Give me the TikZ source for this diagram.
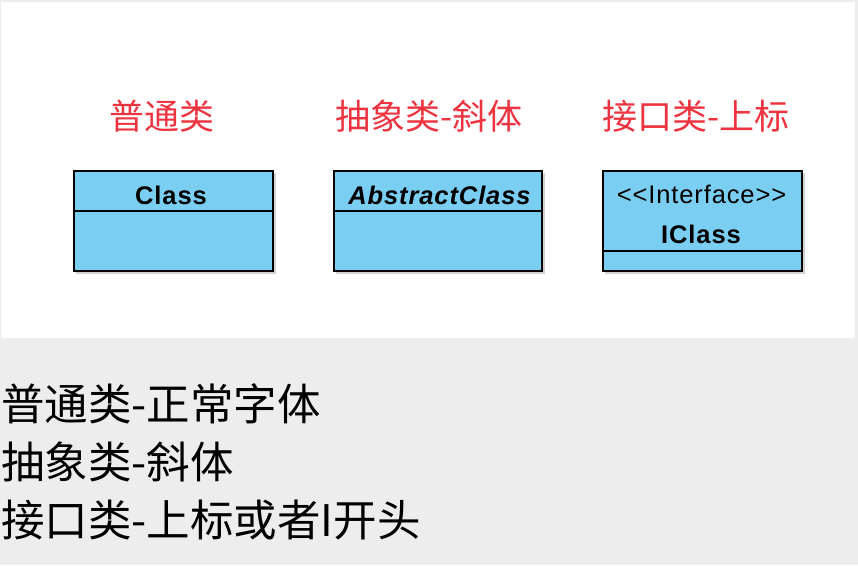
\documentclass[tikz,border=0pt]{standalone}
\usepackage{fontspec}
\setmainfont{Liberation Sans}
\newfontfamily\boxfont[LetterSpace=3.5]{Liberation Sans}
\newfontfamily\cjk{Noto Sans CJK SC}
\definecolor{bggray}{HTML}{EDEDED}
\definecolor{umlblue}{HTML}{7ACEF2}
\definecolor{labred}{HTML}{EE3340}
\begin{document}
\begin{tikzpicture}[x=1pt,y=-1pt,
  umlbox/.style={draw=black, line width=1.8pt, fill=umlblue, inner sep=0pt, minimum width=199pt, minimum height=100pt},
  divider/.style={draw=black, line width=1.6pt},
  redlabel/.style={text=labred, inner sep=0pt, font=\cjk\fontsize{35}{40}\selectfont},
  clsname/.style={inner sep=0pt, anchor=base, font=\boxfont\bfseries\fontsize{25.5}{30}\selectfont},
  stereo/.style={inner sep=0pt, anchor=base, font=\boxfont\fontsize{25.5}{30}\selectfont},
  notetext/.style={inner sep=0pt, anchor=west, text=black, font=\cjk\fontsize{43.5}{50}\selectfont},
  shadowbox/.style={fill=black, opacity=0.18}
]
\useasboundingbox (0,0) rectangle (858,565);
\fill[bggray] (0,0) rectangle (858,565);
\fill[white] (1,1.5) rectangle (855,338);

% shadows
\fill[shadowbox] (76,173) rectangle (275.5,273.5);
\fill[shadowbox] (336,173) rectangle (544.5,273.5);
\fill[shadowbox] (605,173) rectangle (804.5,273.5);

% boxes
\node[umlbox] (b1) at (173.5,221) {};
\node[umlbox, minimum width=208pt] (b2) at (438,221) {};
\node[umlbox] (b3) at (702.5,221) {};

\draw[divider] (b1.west |- 0,211) -- (b1.east |- 0,211);
\draw[divider] (b2.west |- 0,211) -- (b2.east |- 0,211);
\draw[divider] (b3.west |- 0,251) -- (b3.east |- 0,251);

% class names
\node[clsname] (n1) at (171,204) {Class};
\node[clsname, font=\boxfont\bfseries\itshape\fontsize{25.5}{30}\selectfont] (n2) at (439.5,204) {AbstractClass};
\node[stereo] (s3) at (701.5,203.5) {<{}<Interface>{}>};
\node[clsname] (n3) at (701,243) {IClass};

% red labels
\node[redlabel] (l1) at (161.5,116) {普通类};
\node[redlabel] (l2) at (429,116) {抽象类-斜体};
\node[redlabel] (l3) at (696,116) {接口类-上标};

% bottom notes
\node[notetext] (t1) at (1,403.5) {普通类-正常字体};
\node[notetext] (t2) at (1,462) {抽象类-斜体};
\node[notetext] (t3) at (1,520) {接口类-上标或者I开头};
\end{tikzpicture}
\end{document}
